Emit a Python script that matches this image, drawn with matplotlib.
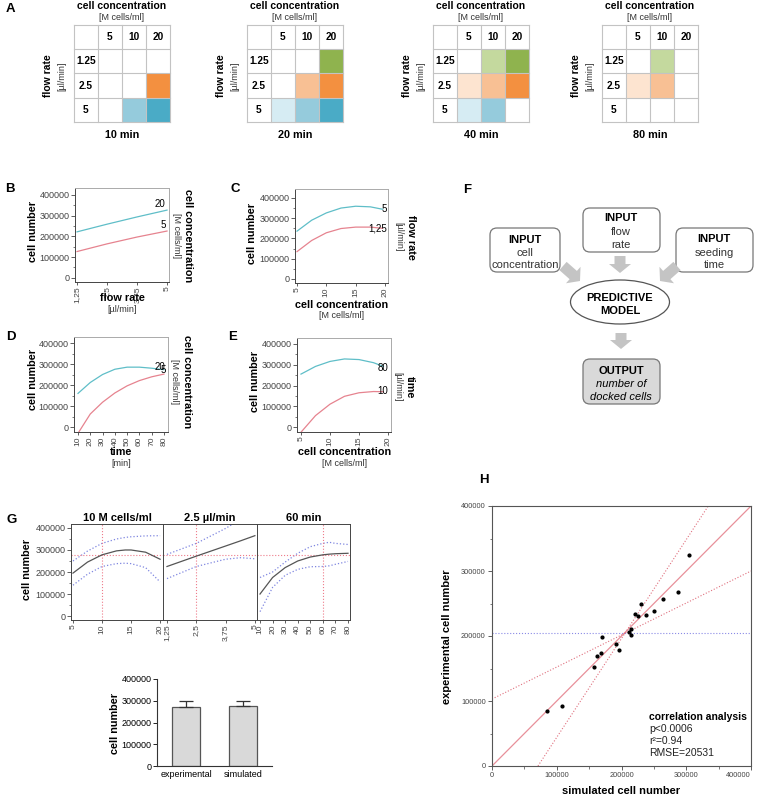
import numpy as np
import matplotlib
matplotlib.use("Agg")
import matplotlib.pyplot as plt
from matplotlib.patches import Rectangle, FancyBboxPatch, Ellipse, FancyArrow
from matplotlib.ticker import MultipleLocator

plt.rcParams['font.family'] = ['Liberation Sans', 'DejaVu Sans']

W, H = 758, 796

# ---------------- data ----------------
# A: docking grids, 0 = empty, 1..3 = light..dark shade
a_times = ["10 min", "20 min", "40 min", "80 min"]
a_conc = ["5", "10", "20"]
a_flow = ["1.25", "2.5", "5"]
a_levels = [
    [[0, 0, 0], [0, 0, 3], [0, 2, 3]],
    [[0, 0, 3], [0, 2, 3], [1, 2, 3]],
    [[0, 2, 3], [1, 2, 3], [1, 2, 0]],
    [[0, 2, 0], [1, 2, 0], [0, 0, 0]],
]

# B: cell number vs flow rate
b_flow = [1.25, 2.5, 3.75, 5]
b_conc20 = [222000, 259000, 294000, 327000]
b_conc5 = [127000, 164000, 197000, 226000]

# C: cell number vs cell concentration
c_conc = [5, 7.5, 10, 12.5, 15, 17.5, 19.6]
c_flow5 = [236000, 290000, 326000, 350000, 359000, 356000, 344000]
c_flow125 = [135000, 190000, 228000, 249000, 256000, 256000, 250000]

# D: cell number vs time
d_time = [10, 20, 30, 40, 50, 60, 70, 80]
d_conc20 = [160000, 212000, 250000, 275000, 285000, 285000, 280000, 273000]
d_conc5 = [-30000, 62000, 118000, 162000, 196000, 221000, 239000, 252000]

# E: cell number vs cell concentration
e_conc = [5, 7.5, 10, 12.5, 15, 17.5, 19.2]
e_time80 = [255000, 292000, 316000, 328000, 325000, 310000, 292000]
e_time10 = [-25000, 55000, 110000, 148000, 165000, 171000, 170000]

# G: prediction profiler
g1_x = [5, 7.5, 10, 12.5, 14, 15, 17.5, 20]
g1_mid = [195000, 245000, 278000, 296000, 300000, 300000, 290000, 258000]
g1_hi = [250000, 295000, 330000, 350000, 357000, 360000, 364000, 365000]
g1_lo = [140000, 190000, 225000, 238000, 240000, 238000, 220000, 155000]
g2_x = [1.25, 2.5, 3.75, 4.4, 5]
g2_mid = [225000, 272000, 318000, 342000, 365000]
g2_hi = [280000, 330000, 398000, 440000, 480000]
g2_lo = [170000, 225000, 258000, 265000, 260000]
g3_x = [10, 20, 30, 40, 50, 60, 65, 70, 80]
g3_mid = [100000, 175000, 220000, 250000, 268000, 278000, 281000, 283000, 285000]
g3_hi = [175000, 200000, 245000, 285000, 315000, 330000, 335000, 330000, 325000]
g3_lo = [20000, 130000, 185000, 212000, 224000, 225000, 228000, 235000, 248000]
g_titles = ["10 M cells/ml", "2.5 µl/min", "60 min"]
g_set = [10, 2.5, 60]
g_pred = 278000

# bar chart
bar_labels = ["experimental", "simulated"]
bar_means = [271000, 276000]
bar_err = [27000, 24000]

# H: experimental vs simulated
h_sim = [84800, 107400, 157300, 161400, 169100, 170200, 191800, 196900, 211300,
         214400, 215400, 221600, 225200, 230300, 238500, 249900, 264800, 287400, 303800]
h_exp = [85100, 92300, 152800, 169200, 173300, 198500, 187700, 177900, 206700,
         210300, 201000, 233300, 231300, 249200, 231800, 237900, 256900, 267200, 324600]
h_ticks = [0, 100000, 200000, 300000, 400000]
h_mean = 205000
h_fit = [0, 400000]
h_band_lo_x = [0, 400000]
h_band_lo_y = [103000, 300000]
h_band_hi_x = [71000, 334000]
h_band_hi_y = [0, 400000]

# ---------------- figure ----------------
fig = plt.figure(figsize=(W / 100, H / 100), dpi=100)


def px_axes(x0, y0, x1, y1):
    return fig.add_axes([x0 / W, 1 - y1 / H, (x1 - x0) / W, (y1 - y0) / H])


cyan = '#5fbec8'
pink = '#e6838f'
dark = '#444444'
light = '#aaaaaa'
shades = [
    [None, '#e4eed3', '#c4d99e', '#8fb34e'],
    [None, '#fde4d0', '#f8c094', '#f39040'],
    [None, '#d6ecf3', '#95cbdc', '#4aabc6'],
]


def jmp_axes(ax, xlim, ylim, xticks, xticklabels):
    ax.set_xlim(xlim)
    ax.set_ylim(ylim)
    ax.set_xticks(xticks)
    ax.set_xticklabels(xticklabels, rotation=90)
    ax.yaxis.set_major_locator(MultipleLocator(100000))
    ax.yaxis.set_minor_locator(MultipleLocator(50000))
    ax.tick_params(direction='out', length=3, width=0.6, labelsize=6.5, pad=1, colors=dark)
    ax.tick_params(axis='x', length=2.5, pad=0.5, labelsize=6.1)
    ax.tick_params(which='minor', length=1.8, width=0.5, colors=dark)
    for s in ['left', 'bottom']:
        ax.spines[s].set_color(dark)
        ax.spines[s].set_linewidth(0.7)
    for s in ['top', 'right']:
        ax.spines[s].set_color(light)
        ax.spines[s].set_linewidth(0.7)


# A grids
a_x0 = [74, 247, 433, 602]
for k in range(4):
    ax = px_axes(a_x0[k], 25, a_x0[k] + 96, 122)
    ax.set_xlim(0, 4)
    ax.set_ylim(4, 0)
    ax.axis('off')
    for i in range(3):
        for j in range(3):
            lv = a_levels[k][i][j]
            if lv:
                ax.add_patch(Rectangle((j + 1, i + 1), 1, 1, color=shades[i][lv], lw=0))
    for t in range(5):
        ax.plot([0, 4], [t, t], color='#c3c3c3', lw=0.8, clip_on=False)
        ax.plot([t, t], [0, 4], color='#c3c3c3', lw=0.8, clip_on=False)
    for j, c in enumerate(a_conc):
        ax.text(j + 1.5, 0.5, c, ha='center', va='center', fontsize=7.3, fontweight='bold')
    for i, f in enumerate(a_flow):
        ax.text(0.5, i + 1.5, f, ha='center', va='center', fontsize=7.3, fontweight='bold')

# B-E line panels
axB = px_axes(75, 188, 169, 282)
axB.plot(b_flow, b_conc20, color=cyan, lw=0.9)
axB.plot(b_flow, b_conc5, color=pink, lw=0.9)
jmp_axes(axB, (1.167, 5.083), (-20000, 433700), b_flow, ["1,25", "2,5", "3,75", "5"])
axB.text(b_flow[-1] - 0.05, b_conc20[-1] + 4000, "20", ha='right', va='bottom', fontsize=7)
axB.text(b_flow[-1] - 0.05, b_conc5[-1] + 6000, "5", ha='right', va='bottom', fontsize=7)

axC = px_axes(295, 189, 388, 283)
axC.plot(c_conc, c_flow5, color=cyan, lw=0.9)
axC.plot(c_conc, c_flow125, color=pink, lw=0.9)
jmp_axes(axC, (4.66, 20.51), (-19750, 444000), [5, 10, 15, 20], ["5", "10", "15", "20"])
axC.text(20.3, c_flow5[-1], "5", ha='right', va='center', fontsize=7)
axC.text(20.3, c_flow125[-1], "1,25", ha='right', va='center', fontsize=7)

axD = px_axes(74, 337, 168, 432)
axD.plot(d_time, d_conc20, color=cyan, lw=0.9)
axD.plot(d_time, d_conc5, color=pink, lw=0.9)
jmp_axes(axD, (6.74, 83.3), (-23800, 428600), d_time, [str(t) for t in d_time])
axD.text(81, 287000, "20", ha='right', va='center', fontsize=7)
axD.text(82, 271000, "5", ha='right', va='center', fontsize=7)

axE = px_axes(297, 338, 391, 432)
axE.plot(e_conc, e_time80, color=cyan, lw=0.9)
axE.plot(e_conc, e_time10, color=pink, lw=0.9)
jmp_axes(axE, (4.31, 20.52), (-24000, 428900), [5, 10, 15, 20], ["5", "10", "15", "20"])
axE.text(19.1, 284000, "80", ha='center', va='center', fontsize=7)
axE.text(19.1, 173000, "10", ha='center', va='center', fontsize=7)

# G profiler
g_rects = [(71, 163), (163, 257), (257, 350)]
g_xlims = [(4.66, 20.5), (1.08, 5.09), (7.6, 81.6)]
g_data = [(g1_x, g1_mid, g1_hi, g1_lo), (g2_x, g2_mid, g2_hi, g2_lo), (g3_x, g3_mid, g3_hi, g3_lo)]
g_ticks = [([5, 10, 15, 20], ["5", "10", "15", "20"]),
           ([1.25, 2.5, 3.75, 5], ["1,25", "2,5", "3,75", "5"]),
           (g3_x[:6] + [70, 80], ["10", "20", "30", "40", "50", "60", "70", "80"])]
for n in range(3):
    ax = px_axes(g_rects[n][0], 524, g_rects[n][1], 620)
    x, mid, hi, lo = g_data[n]
    ax.plot(x, hi, color='#7f86e0', lw=0.9, ls=':')
    ax.plot(x, lo, color='#7f86e0', lw=0.9, ls=':')
    ax.axvline(g_set[n], color='#ee7b8a', lw=0.8, ls=':')
    ax.axhline(g_pred, color='#ee7b8a', lw=0.8, ls=':')
    ax.plot(x, mid, color='#555555', lw=0.9)
    jmp_axes(ax, g_xlims[n], (-18000, 418000), g_ticks[n][0], g_ticks[n][1])
    ax.set_title(g_titles[n], fontsize=8, fontweight='bold', pad=2)
    if n > 0:
        ax.tick_params(axis='y', which='both', left=False, labelleft=False)
    ax.spines['top'].set_color(dark)
    ax.spines['right'].set_color(dark)

# bar chart
axBar = px_axes(157, 679, 272, 766)
axBar.bar(range(2), bar_means, width=0.5, color='#d9d9d9', edgecolor='#555555', lw=0.9)
axBar.errorbar(range(2), bar_means, yerr=[[0, 0], bar_err], fmt='none', ecolor='#333333',
               elinewidth=0.9, capsize=5, capthick=0.9)
axBar.set_xlim(-0.51, 1.51)
axBar.set_ylim(0, 400000)
axBar.set_xticks(range(2))
axBar.set_xticklabels(bar_labels)
axBar.yaxis.set_major_locator(MultipleLocator(100000))
axBar.tick_params(axis='x', length=0, labelsize=6.5, pad=3)
axBar.tick_params(axis='y', length=3, width=0.6, labelsize=6.5, pad=1)
for s in ['top', 'right']:
    axBar.spines[s].set_visible(False)
for s in ['left', 'bottom']:
    axBar.spines[s].set_color('#333333')
    axBar.spines[s].set_linewidth(0.8)

# H scatter
axH = px_axes(492, 506, 751, 766)
axH.axhline(h_mean, color='#8a8ae6', lw=0.8, ls=':')
axH.plot(h_fit, h_fit, color='#e8909a', lw=0.9)
axH.plot(h_band_lo_x, h_band_lo_y, color='#e0707e', lw=0.8, ls=':')
axH.plot(h_band_hi_x, h_band_hi_y, color='#e0707e', lw=0.8, ls=':')
axH.scatter(h_sim, h_exp, s=4, color='black', zorder=3)
axH.set_xlim(0, 400000)
axH.set_ylim(0, 400000)
axH.set_xticks(h_ticks)
axH.set_yticks(h_ticks)
axH.set_xticklabels([str(t) for t in h_ticks])
axH.set_yticklabels([str(t) for t in h_ticks])
axH.xaxis.set_minor_locator(MultipleLocator(50000))
axH.yaxis.set_minor_locator(MultipleLocator(50000))
axH.tick_params(direction='out', length=3, width=0.6, labelsize=5.3, pad=1.5, colors=dark)
axH.tick_params(which='minor', length=1.8, width=0.5, colors=dark)
axH.xaxis.get_major_ticks()[-1].label1.set_horizontalalignment('right')
for s in axH.spines.values():
    s.set_color('#555555')
    s.set_linewidth(0.8)

# overlay for text and flowchart
ov = fig.add_axes([0, 0, 1, 1])
ov.set_xlim(0, W)
ov.set_ylim(H, 0)
ov.axis('off')
ov.patch.set_alpha(0)

bold = dict(fontweight='bold')
for lab, x, y in [("A", 10, 9), ("B", 10, 189), ("C", 235, 189), ("D", 11, 337),
                  ("E", 233, 337), ("F", 467, 190), ("G", 12, 520), ("H", 484, 480)]:
    ov.text(x, y, lab, fontsize=9.5, ha='center', va='center', **bold)

# A annotations
for k in range(4):
    cx = a_x0[k] + 48
    ov.text(cx, 6, "cell concentration", ha='center', va='center', fontsize=7.5, **bold)
    ov.text(cx, 17, "[M cells/ml]", ha='center', va='center', fontsize=6.5, color='#333333')
    ov.text(a_x0[k] - 26, 76, "flow rate", ha='center', va='center', fontsize=7.5, rotation=90, **bold)
    ov.text(a_x0[k] - 12, 76, "[µl/min]", ha='center', va='center', fontsize=6.5, rotation=90, color='#333333')
    ov.text(a_x0[k] + 48, 135, a_times[k], ha='center', va='center', fontsize=7.8, **bold)

# B-E axis labels
for x, y in [(33, 232), (252, 234), (33, 380), (255, 382)]:
    ov.text(x, y, "cell number", ha='center', va='center', fontsize=7.8, rotation=90, **bold)
for x, y, t1, t2 in [(122, 298, "flow rate", "[µl/min]"),
                     (342, 305, "cell concentration", "[M cells/ml]"),
                     (121, 452, "time", "[min]"),
                     (345, 452, "cell concentration", "[M cells/ml]")]:
    ov.text(x, y, t1, ha='center', va='center', fontsize=7.8, **bold)
    ov.text(x, y + 11, t2, ha='center', va='center', fontsize=6.5, color='#333333')
for x, y, t1, t2 in [(188, 236, "cell concentration", "[M cells/ml]"),
                     (411, 237, "flow rate", "[µl/min]"),
                     (187, 382, "cell concentration", "[M cells/ml]"),
                     (410, 387, "time", "[µl/min]")]:
    ov.text(x, y, t1, ha='center', va='center', fontsize=7.8, rotation=270, **bold)
    ov.text(x - 12, y, t2, ha='center', va='center', fontsize=6.5, rotation=270, color='#333333')

# G / bar labels
ov.text(27, 570, "cell number", ha='center', va='center', fontsize=7.8, rotation=90, **bold)
ov.text(115, 723, "cell number", ha='center', va='center', fontsize=7.8, rotation=90, **bold)

# H labels and annotation
ov.text(621, 791, "simulated cell number", ha='center', va='center', fontsize=8, **bold)
ov.text(447, 637, "experimental cell number", ha='center', va='center', fontsize=8, rotation=90, **bold)
ov.text(649, 717, "correlation analysis", ha='left', va='center', fontsize=7.5, **bold)
for y, t in [(729, "p<0.0006"), (741, "r²=0.94"), (753, "RMSE=20531")]:
    ov.text(649, y, t, ha='left', va='center', fontsize=7.5, color='#222222')

# F flowchart
box_kw = dict(boxstyle="round,pad=0,rounding_size=7", fc='white', ec='#777777', lw=0.9)
for x0, y0, x1, y1 in [(490, 228, 560, 272), (583, 208, 660, 252), (676, 228, 753, 272)]:
    ov.add_patch(FancyBboxPatch((x0, y0), x1 - x0, y1 - y0, **box_kw))
ov.add_patch(FancyBboxPatch((583, 359), 77, 45, boxstyle="round,pad=0,rounding_size=7",
                            fc='#d9d9d9', ec='#777777', lw=0.9))
ov.add_patch(Ellipse((620, 302), 99, 44, fc='white', ec='#555555', lw=0.9))
arrow_kw = dict(width=11, head_width=22, head_length=9, length_includes_head=True,
                color='#c4c4c4', lw=0)
ov.add_patch(FancyArrow(620, 256, 0, 17, **arrow_kw))
ov.add_patch(FancyArrow(563, 266, 17, 15, **arrow_kw))
ov.add_patch(FancyArrow(677, 266, -17, 15, **arrow_kw))
ov.add_patch(FancyArrow(621, 333, 0, 16, **arrow_kw))
fkw = dict(ha='center', va='center', fontsize=8)
for cx, ys, lines in [(525, [240, 253, 265], ["INPUT", "cell", "concentration"]),
                      (621, [218, 232, 245], ["INPUT", "flow", "rate"]),
                      (714, [239, 253, 265], ["INPUT", "seeding", "time"])]:
    ov.text(cx, ys[0], lines[0], fontweight='bold', **fkw)
    ov.text(cx, ys[1], lines[1], color='#333333', **fkw)
    ov.text(cx, ys[2], lines[2], color='#333333', **fkw)
ov.text(620, 298, "PREDICTIVE", fontweight='bold', **fkw)
ov.text(620, 311, "MODEL", fontweight='bold', **fkw)
ov.text(621, 371, "OUTPUT", fontweight='bold', **fkw)
ov.text(621, 384, "number of", style='italic', **fkw)
ov.text(621, 397, "docked cells", style='italic', **fkw)

fig.savefig("out.png", dpi=100)
